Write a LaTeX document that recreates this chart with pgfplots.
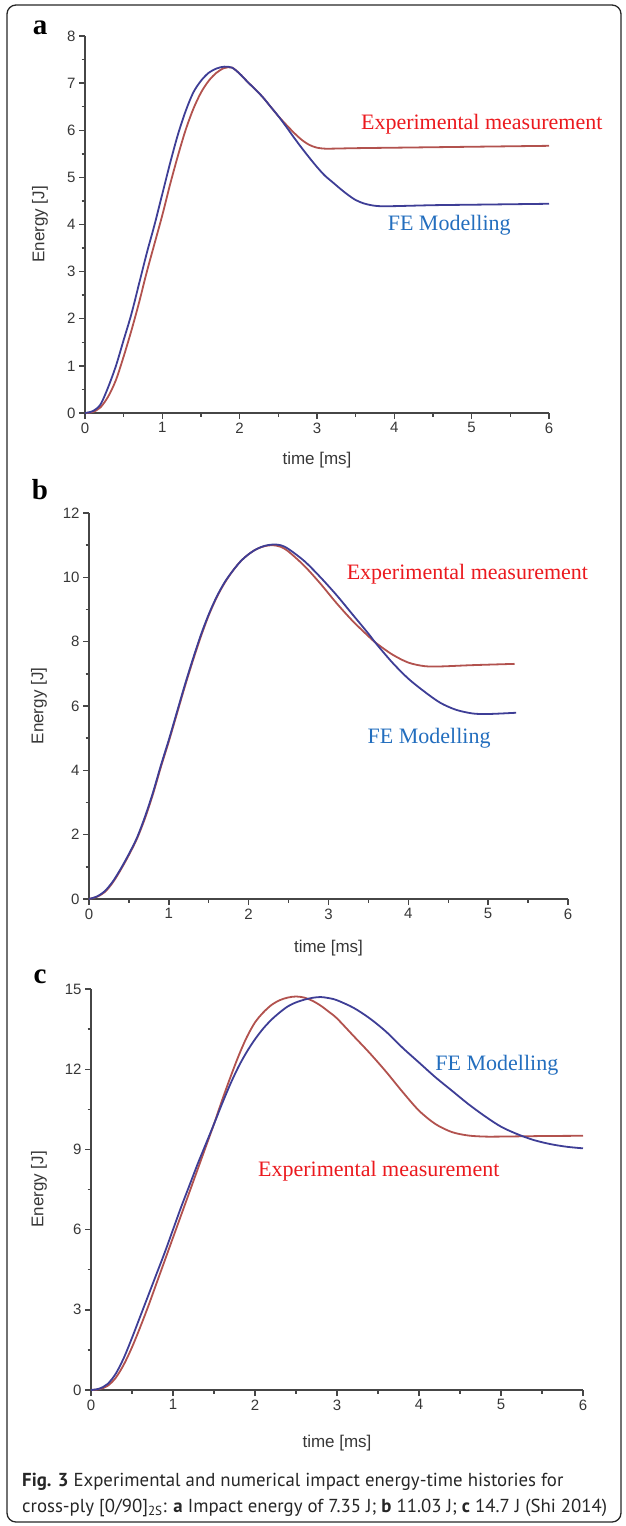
\documentclass[border=0pt]{standalone}
\usepackage{fontspec}
\setmainfont{Liberation Serif}
\setsansfont{Liberation Sans}
\newfontfamily\capfont{PT Sans}
\usepackage{pgfplots}
\pgfplotsset{compat=1.18}

\definecolor{axgray}{RGB}{70,70,70}
\definecolor{ticktext}{RGB}{55,55,55}
\definecolor{expline}{RGB}{178,82,78}
\definecolor{feline}{RGB}{62,62,150}
\definecolor{exptext}{RGB}{235,25,30}
\definecolor{fetext}{RGB}{35,110,190}

\pgfplotsset{
  energy/.style={
    scale only axis,
    axis x line*=bottom, axis y line*=left,
    axis line style={-, line width=1.6pt, draw=axgray},
    tick align=outside,
    major tick length=6pt, minor tick length=3.5pt,
    tick style={line width=1.4pt, color=axgray},
    xmin=0, xmax=6, xtick={0,...,6},
    minor x tick num=1, minor y tick num=1,
    /pgf/number format/assume math mode=true,
    tick label style={font=\fontsize{15}{15}\selectfont\sffamily, text=ticktext},
    clip=false,
  },
  exp/.style={line width=1.8pt, color=expline, smooth},
  fe/.style={line width=1.8pt, color=feline, smooth},
}
\newcommand{\labfont}{\fontsize{17}{17}\selectfont\sffamily\color{ticktext}}
\newcommand{\curvefont}{\fontsize{22}{22}\selectfont}

\begin{document}
\begin{tikzpicture}
\path[use as bounding box] (0,0) rectangle (625pt,-1526pt);
\draw[rounded corners=9pt, line width=1.3pt, color=black!85] (7pt,-5pt) rectangle (621pt,-1522pt);

% ---- panel a
\node[font=\fontsize{29}{29}\selectfont\bfseries] at (40pt,-28pt) {a};
\begin{axis}[energy, at={(85pt,-413pt)}, anchor=south west,
    width=464pt, height=377pt, ymin=0, ymax=8, ytick={0,...,8}]
  \addplot[exp] coordinates {
    (0,0) (0.1,0.02) (0.2,0.12) (0.3,0.35) (0.4,0.7) (0.5,1.2) (0.6,1.75)
    (0.7,2.35) (0.8,3.0) (0.9,3.6) (1.0,4.2) (1.1,4.85) (1.2,5.45) (1.3,6.0)
    (1.4,6.45) (1.5,6.8) (1.6,7.05) (1.7,7.22) (1.8,7.32) (1.9,7.33) (2.0,7.2)
    (2.1,7.03) (2.2,6.87) (2.3,6.7) (2.4,6.5) (2.5,6.3) (2.6,6.12) (2.7,5.95)
    (2.8,5.8) (2.9,5.69) (3.0,5.63) (3.1,5.61) (3.2,5.61) (3.5,5.62) (4.0,5.63)
    (4.5,5.64) (5.0,5.65) (5.5,5.66) (6.0,5.67)};
  \addplot[fe] coordinates {
    (0,0) (0.1,0.04) (0.2,0.18) (0.3,0.55) (0.4,1.0) (0.5,1.55) (0.6,2.1)
    (0.7,2.75) (0.8,3.4) (0.9,4.0) (1.0,4.65) (1.1,5.3) (1.2,5.9) (1.3,6.4)
    (1.4,6.8) (1.5,7.05) (1.6,7.22) (1.7,7.31) (1.8,7.35) (1.9,7.33) (2.0,7.2)
    (2.1,7.03) (2.2,6.87) (2.3,6.7) (2.4,6.5) (2.5,6.3) (2.6,6.08) (2.7,5.85)
    (2.8,5.63) (2.9,5.42) (3.0,5.22) (3.1,5.04) (3.2,4.9) (3.3,4.76) (3.4,4.63)
    (3.5,4.52) (3.6,4.45) (3.7,4.41) (3.8,4.39) (4.0,4.39) (4.5,4.41) (5.0,4.42)
    (5.5,4.43) (6.0,4.44)};
  \node[font=\curvefont, text=exptext] at (axis cs:5.13,6.12) {Experimental measurement};
  \node[font=\curvefont, text=fetext] at (axis cs:4.71,3.98) {FE Modelling};
  \node[font=\labfont] at ([yshift=-47pt]rel axis cs:0.5,0) {time [ms]};
  \node[font=\labfont, rotate=90] at ([xshift=-45pt]rel axis cs:0,0.5) {Energy [J]};
\end{axis}

% ---- panel b
\node[font=\fontsize{29}{29}\selectfont\bfseries] at (40pt,-490pt) {b};
\begin{axis}[energy, at={(89pt,-899pt)}, anchor=south west,
    width=479pt, height=386pt, ymin=0, ymax=12, ytick={0,2,...,12}]
  \addplot[exp] coordinates {
    (0,0) (0.1,0.07) (0.2,0.22) (0.3,0.52) (0.4,0.92) (0.5,1.37) (0.6,1.87)
    (0.7,2.5) (0.8,3.25) (0.9,4.1) (1.0,4.9) (1.1,5.75) (1.2,6.6) (1.3,7.4)
    (1.4,8.15) (1.5,8.82) (1.6,9.38) (1.7,9.83) (1.8,10.2) (1.9,10.5) (2.0,10.72)
    (2.1,10.88) (2.2,10.97) (2.3,11.0) (2.4,10.95) (2.5,10.8) (2.7,10.35)
    (2.9,9.8) (3.1,9.2) (3.3,8.65) (3.5,8.17) (3.6,7.95) (3.8,7.6) (4.0,7.35)
    (4.2,7.24) (4.4,7.23) (4.8,7.27) (5.33,7.31)};
  \addplot[fe] coordinates {
    (0,0) (0.1,0.08) (0.2,0.25) (0.3,0.55) (0.4,0.95) (0.5,1.4) (0.6,1.9)
    (0.7,2.55) (0.8,3.3) (0.9,4.15) (1.0,4.95) (1.1,5.8) (1.2,6.65) (1.3,7.45)
    (1.4,8.2) (1.5,8.85) (1.6,9.4) (1.7,9.85) (1.8,10.2) (1.9,10.5) (2.0,10.72)
    (2.1,10.88) (2.2,10.98) (2.3,11.02) (2.4,11.0) (2.5,10.88) (2.7,10.5)
    (2.9,10.0) (3.1,9.45) (3.3,8.85) (3.5,8.25) (3.6,7.93) (3.8,7.35) (4.0,6.85)
    (4.2,6.45) (4.4,6.1) (4.6,5.88) (4.8,5.77) (4.95,5.75) (5.1,5.76) (5.35,5.79)};
  \node[font=\curvefont, text=exptext] at (axis cs:4.74,10.1) {Experimental measurement};
  \node[font=\curvefont, text=fetext] at (axis cs:4.26,5.0) {FE Modelling};
  \node[font=\labfont] at ([yshift=-49pt]rel axis cs:0.5,0) {time [ms]};
  \node[font=\labfont, rotate=90] at ([xshift=-50pt]rel axis cs:0,0.5) {Energy [J]};
\end{axis}

% ---- panel c
\node[font=\fontsize{29}{29}\selectfont\bfseries] at (40pt,-977pt) {c};
\begin{axis}[energy, at={(91pt,-1390pt)}, anchor=south west,
    width=492pt, height=401pt, ymin=0, ymax=15, ytick={0,3,...,15}]
  \addplot[exp] coordinates {
    (0,0) (0.1,0.03) (0.2,0.15) (0.3,0.45) (0.4,0.95) (0.5,1.6) (0.6,2.35)
    (0.7,3.15) (0.8,4.0) (0.9,4.85) (1.0,5.7) (1.1,6.55) (1.2,7.4) (1.3,8.25)
    (1.4,9.1) (1.5,9.95) (1.6,10.85) (1.7,11.7) (1.8,12.5) (1.9,13.2) (2.0,13.75)
    (2.1,14.12) (2.2,14.4) (2.3,14.58) (2.4,14.68) (2.5,14.72) (2.6,14.68)
    (2.7,14.56) (2.8,14.38) (2.9,14.15) (3.0,13.9) (3.2,13.25) (3.4,12.6)
    (3.6,11.9) (3.8,11.15) (4.0,10.45) (4.2,9.95) (4.4,9.65) (4.6,9.52)
    (4.8,9.48) (5.0,9.48) (5.5,9.5) (6.0,9.51)};
  \addplot[fe] coordinates {
    (0,0) (0.1,0.05) (0.2,0.22) (0.3,0.6) (0.4,1.2) (0.5,1.95) (0.6,2.75)
    (0.7,3.55) (0.8,4.35) (0.9,5.15) (1.0,6.0) (1.1,6.85) (1.2,7.65) (1.3,8.45)
    (1.4,9.2) (1.5,9.95) (1.6,10.72) (1.7,11.45) (1.8,12.1) (1.9,12.65) (2.0,13.12)
    (2.1,13.52) (2.2,13.85) (2.3,14.12) (2.4,14.35) (2.5,14.5) (2.6,14.6)
    (2.7,14.67) (2.8,14.7) (2.9,14.66) (3.0,14.58) (3.2,14.3) (3.4,13.9)
    (3.6,13.4) (3.8,12.8) (4.0,12.25) (4.2,11.7) (4.4,11.2) (4.6,10.7)
    (4.8,10.25) (5.0,9.85) (5.2,9.57) (5.4,9.35) (5.6,9.2) (5.8,9.1) (6.0,9.04)};
  \node[font=\curvefont, text=fetext] at (axis cs:4.95,12.15) {FE Modelling};
  \node[font=\curvefont, text=exptext] at (axis cs:3.51,8.19) {Experimental measurement};
  \node[font=\labfont] at ([yshift=-53pt]rel axis cs:0.5,0) {time [ms]};
  \node[font=\labfont, rotate=90] at ([xshift=-52pt]rel axis cs:0,0.5) {Energy [J]};
\end{axis}

% ---- caption
\node[anchor=base west, font=\capfont\fontsize{18.8}{18.8}\selectfont, text=black!85, inner sep=0pt]
  at (22pt,-1486pt) {\textbf{Fig. 3} Experimental and numerical impact energy-time histories for};
\node[anchor=base west, font=\capfont\fontsize{18.8}{18.8}\selectfont, text=black!85, inner sep=0pt]
  at (22pt,-1512pt) {cross-ply [0/90]\textsubscript{2S}: \textbf{a} Impact energy of 7.35 J; \textbf{b} 11.03 J; \textbf{c} 14.7 J (Shi 2014)};
\end{tikzpicture}
\end{document}
